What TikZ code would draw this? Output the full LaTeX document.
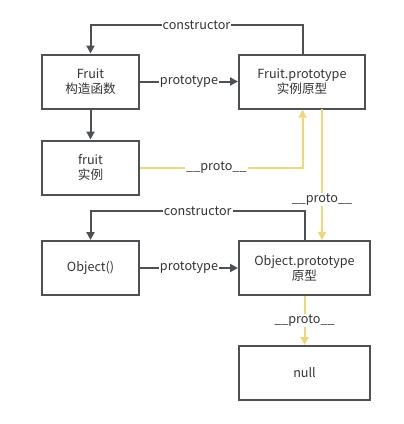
\documentclass[tikz,border=0pt]{standalone}
\usepackage{fontspec}
\setmainfont{Noto Sans CJK SC}
\usetikzlibrary{arrows.meta}
\definecolor{dk}{HTML}{4D5155}
\definecolor{yl}{HTML}{EDD877}
\definecolor{tx}{HTML}{333333}
\begin{document}
\begin{tikzpicture}[x=1pt,y=-1pt,
  box/.style={draw=dk,line width=2pt,minimum width=#1,minimum height=54pt,align=center,text=tx,font=\fontsize{12.6}{15}\selectfont,inner sep=0pt},
  box/.default=97pt,
  dl/.style={draw=dk,line width=2pt,-{Triangle[length=8pt,width=8pt]}},
  yline/.style={draw=yl,line width=2pt,-{Triangle[length=8pt,width=8pt]}},
  lab/.style={fill=white,text=tx,font=\fontsize{12.6}{15}\selectfont,inner sep=1pt}]
\useasboundingbox (0,0) rectangle (404,424);
\node[box] (F) at (90.5,81.5) {Fruit\\构造函数};
\node[box=126pt] (FP) at (302,81.5) {Fruit.prototype\\实例原型};
\node[box] (f) at (90.5,167.5) {fruit\\实例};
\node[box] (O) at (90.5,268) {Object()};
\node[box=131pt] (OP) at (304.5,268) {Object.prototype\\原型};
\node[box=131pt] (N) at (304.5,373) {null};
\coordinate (c1) at (302.5,25);
\coordinate (c2) at (90.5,25);
\draw[dl] (FP.north -| c1) -- (c1) -- node[lab]{constructor} (c2) -- (F.north);
\draw[dl] (F.east) -- node[lab]{prototype} (FP.west);
\draw[dl] (F.south) -- (f.north);
\coordinate (p1) at (302.5,168);
\draw[yline] (f.east |- p1) -- node[lab,pos=0.47]{\_\_proto\_\_} (p1) -- (FP.south -| p1);
\coordinate (q1) at (322,109);
\draw[yline] (q1) -- node[lab,pos=0.69]{\_\_proto\_\_} (OP.north -| q1);
\coordinate (c3) at (305,211);
\coordinate (c4) at (90.5,211);
\draw[dl] (OP.north -| c3) -- (c3) -- node[lab]{constructor} (c4) -- (O.north);
\draw[dl] (O.east) -- node[lab]{prototype} (OP.west);
\draw[yline] (OP.south) -- node[lab]{\_\_proto\_\_} (N.north);
\end{tikzpicture}
\end{document}
